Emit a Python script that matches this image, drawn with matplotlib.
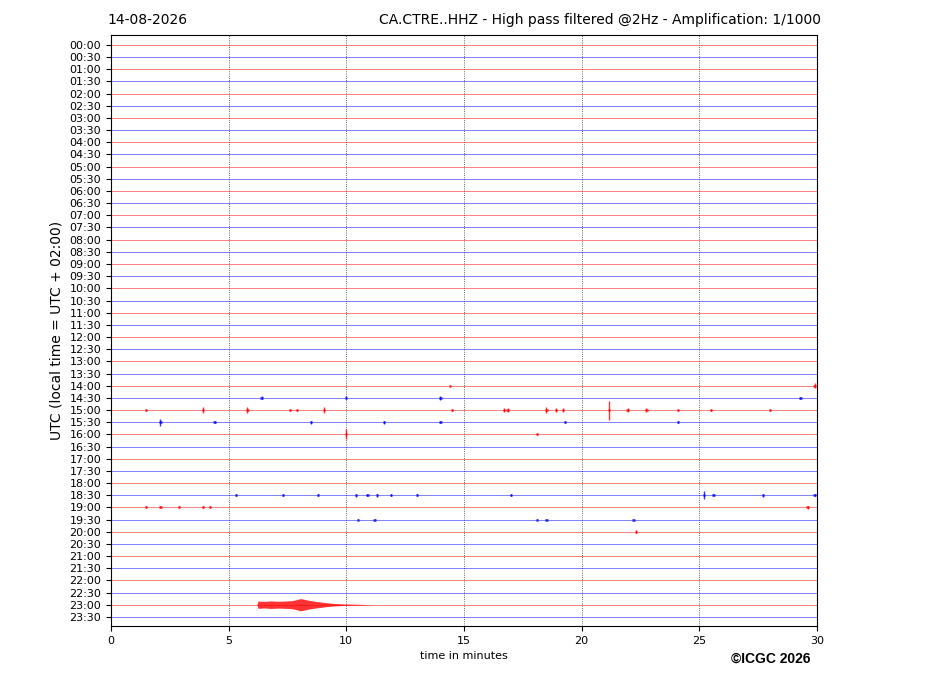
import matplotlib
matplotlib.use("Agg")
import matplotlib.pyplot as plt

# helicorder rows: one per half hour
row_labels = ["%02d:%02d" % (h, m) for h in range(24) for m in (0, 30)]
row_colors = ["red", "blue"]

# isolated spikes: row index, minute, half height (in rows)
spike_rows = [30, 30, 30, 30, 30, 30, 30, 30, 30, 30, 30, 30, 30, 30, 30, 30, 30, 30,
              31, 31, 31, 31, 31, 31, 31,
              29, 29, 29, 29,
              28, 28,
              32, 32,
              37, 37, 37, 37, 37, 37, 37, 37, 37, 37, 37, 37, 37,
              38, 38, 38, 38, 38, 38,
              39, 39, 39, 39, 39,
              40]
spike_minutes = [1.5, 3.9, 5.8, 7.6, 7.9, 9.05, 14.5, 16.7, 16.85, 18.5, 18.9, 19.2, 21.15, 21.95, 22.75, 24.1, 25.5, 28.0,
                 2.1, 4.4, 8.5, 11.6, 14.0, 19.3, 24.1,
                 6.4, 10.0, 14.0, 29.3,
                 29.9, 14.4,
                 10.0, 18.1,
                 5.3, 7.3, 8.8, 10.4, 10.9, 11.3, 11.9, 13.0, 17.0, 25.2, 25.6, 27.7, 29.9,
                 1.5, 2.1, 2.9, 3.9, 4.2, 29.6,
                 10.5, 11.2, 18.1, 18.5, 22.2,
                 22.3]
spike_amps = [0.08, 0.22, 0.24, 0.08, 0.08, 0.24, 0.1, 0.2, 0.2, 0.28, 0.16, 0.16, 0.78, 0.14, 0.2, 0.12, 0.08, 0.1,
              0.3, 0.08, 0.12, 0.12, 0.08, 0.08, 0.08,
              0.12, 0.12, 0.16, 0.08,
              0.22, 0.06,
              0.42, 0.08,
              0.08, 0.08, 0.1, 0.12, 0.1, 0.12, 0.1, 0.08, 0.08, 0.32, 0.1, 0.12, 0.1,
              0.08, 0.08, 0.08, 0.08, 0.08, 0.1,
              0.08, 0.08, 0.08, 0.06, 0.08,
              0.12]

# long tremor at 23:00 (row 46): envelope half height in rows
tremor_row = 46
tremor_minutes = [6.2, 6.25, 6.5, 6.8, 7.1, 7.4, 7.7, 7.9, 8.05, 8.2, 8.4, 8.6, 8.9, 9.2, 9.5, 9.9, 10.4, 11.2]
tremor_amps = [0.0, 0.3, 0.27, 0.31, 0.28, 0.3, 0.33, 0.42, 0.5, 0.45, 0.36, 0.3, 0.22, 0.15, 0.1, 0.06, 0.04, 0.0]

fig = plt.figure(figsize=(9.27, 6.96), dpi=100)
ax = fig.add_axes([0.1197, 0.1006, 0.7616, 0.8491])

for i in range(len(row_labels)):
    ax.plot([0, 30], [i, i], color=row_colors[i % 2], lw=0.7, alpha=0.5, zorder=2)

for r, t, a in zip(spike_rows, spike_minutes, spike_amps):
    c = row_colors[r % 2]
    ax.vlines(t, r - a, r + a, color=c, lw=1.0, alpha=0.8, zorder=3)
    ax.plot([t - 0.05, t + 0.05], [r, r], color=c, lw=2.0, alpha=0.7,
            solid_capstyle="butt", zorder=3)

lower = [tremor_row - a for a in tremor_amps]
upper = [tremor_row + a for a in tremor_amps]
ax.fill_between(tremor_minutes, lower, upper, color="red", alpha=0.8, lw=0, zorder=3)

for x in [5, 10, 15, 20, 25]:
    ax.axvline(x, color="black", ls=":", lw=0.6, alpha=0.8, zorder=1)

ax.set_xlim(0, 30)
ax.set_ylim(47.75, -0.82)
ax.set_yticks(range(len(row_labels)))
ax.set_yticklabels(row_labels)
ax.set_xticks([0, 5, 10, 15, 20, 25, 30])
ax.tick_params(labelsize=8)
ax.set_xlabel("time in minutes", fontsize=8)
ax.set_ylabel("UTC (local time = UTC + 02:00)", fontsize=10)

fig.text(0.1154, 0.971, "14-08-2026", fontsize=10, ha="left", va="center")
fig.text(0.886, 0.971, "CA.CTRE..HHZ - High pass filtered @2Hz - Amplification: 1/1000",
         fontsize=10, ha="right", va="center")
fig.text(0.874, 0.054, "\u00a9ICGC 2026", fontsize=10, fontweight="bold",
         family="Liberation Sans", ha="right", va="center")

fig.savefig("out.png", dpi=100)
